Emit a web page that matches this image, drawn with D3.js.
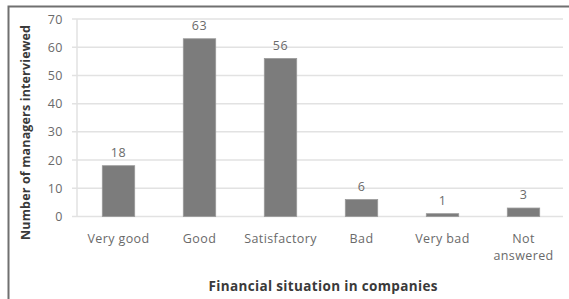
<!DOCTYPE html>
<html>
<head>
<meta charset="utf-8">
<script src="https://cdn.jsdelivr.net/npm/d3@7"></script>
<style>
  body { margin: 0; background: #fff; }
  svg { display: block; font-family: "Open Sans", Lato, sans-serif; }
</style>
</head>
<body>
<div id="chart"></div>
<script>
// data
var categories = ['Very good', 'Good', 'Satisfactory', 'Bad', 'Very bad', 'Not answered'];
var managers = [18, 63, 56, 6, 1, 3];
var yTicks = [0, 10, 20, 30, 40, 50, 60, 70];

var svg = d3.select('#chart').append('svg')
            .attr('width', 569)
            .attr('height', 299);

// frame (only top and left edge show in the crop)
svg.append('path')
   .attr('d', 'M8.5,299 V6.5 H569')
   .attr('fill', 'none')
   .attr('stroke', '#707070')
   .attr('stroke-width', 2);

var x = d3.scaleBand().domain(categories).range([78, 564]).paddingInner(0.6).paddingOuter(0.3);
var y = d3.scaleLinear().domain([0, 70]).range([216.5, 19]);

// gridlines
svg.append('g').selectAll('line')
   .data(yTicks)
   .join('line')
   .attr('x1', 72).attr('x2', 563)
   .attr('y1', d => y(d)).attr('y2', d => y(d))
   .attr('stroke', '#e2e2e2')
   .attr('stroke-width', 1.5);

// y axis line
svg.append('line')
   .attr('x1', 77).attr('x2', 77)
   .attr('y1', y(70)).attr('y2', y(0))
   .attr('stroke', '#e2e2e2').attr('stroke-width', 1.5);

// y tick labels
svg.append('g').selectAll('text')
   .data(yTicks)
   .join('text')
   .attr('x', 63)
   .attr('y', d => y(d) + 4.5)
   .attr('text-anchor', 'end')
   .attr('font-size', 12.5)
   .attr('letter-spacing', 0.5)
   .attr('fill', '#6a6a6a')
   .text(d => d);

// bars
svg.append('g').selectAll('rect')
   .data(managers)
   .join('rect')
   .attr('x', (d, i) => x(categories[i]))
   .attr('width', x.bandwidth())
   .attr('y', d => y(d))
   .attr('height', d => y(0) - y(d))
   .attr('fill', '#7c7c7c')
   .attr('stroke', '#999')
   .attr('stroke-width', 0.8);

// value labels
svg.append('g').selectAll('text')
   .data(managers)
   .join('text')
   .attr('x', (d, i) => x(categories[i]) + x.bandwidth() / 2)
   .attr('y', d => y(d) - 9)
   .attr('text-anchor', 'middle')
   .attr('font-size', 12.5)
   .attr('letter-spacing', 0.5)
   .attr('fill', '#6a6a6a')
   .text(d => d);

// category labels, wrapped on the last one
svg.append('g').selectAll('text')
   .data(categories)
   .join('text')
   .attr('x', d => x(d) + x.bandwidth() / 2)
   .attr('y', 243)
   .attr('text-anchor', 'middle')
   .attr('font-size', 12.5)
   .attr('letter-spacing', 0.4)
   .attr('fill', '#6a6a6a')
   .each(function(d) {
     var words = d === 'Not answered' ? ['Not', 'answered'] : [d];
     var t = d3.select(this);
     words.forEach(function(w, i) {
       t.append('tspan')
        .attr('x', x(d) + x.bandwidth() / 2)
        .attr('dy', i ? 17 : 0)
        .text(w);
     });
   });

// axis titles
svg.append('text')
   .attr('x', 323)
   .attr('y', 291)
   .attr('text-anchor', 'middle')
   .attr('font-size', 13.5)
   .attr('font-weight', 'bold')
   .attr('fill', '#3a3a3a')
   .attr('textLength', 229)
   .attr('lengthAdjust', 'spacing')
   .text('Financial situation in companies');

svg.append('text')
   .attr('transform', 'translate(29.5,132.5) rotate(-90)')
   .attr('text-anchor', 'middle')
   .attr('font-size', 12.5)
   .attr('font-weight', 'bold')
   .attr('fill', '#3a3a3a')
   .attr('textLength', 215)
   .attr('lengthAdjust', 'spacing')
   .text('Number of managers interviewed');
</script>
</body>
</html>
